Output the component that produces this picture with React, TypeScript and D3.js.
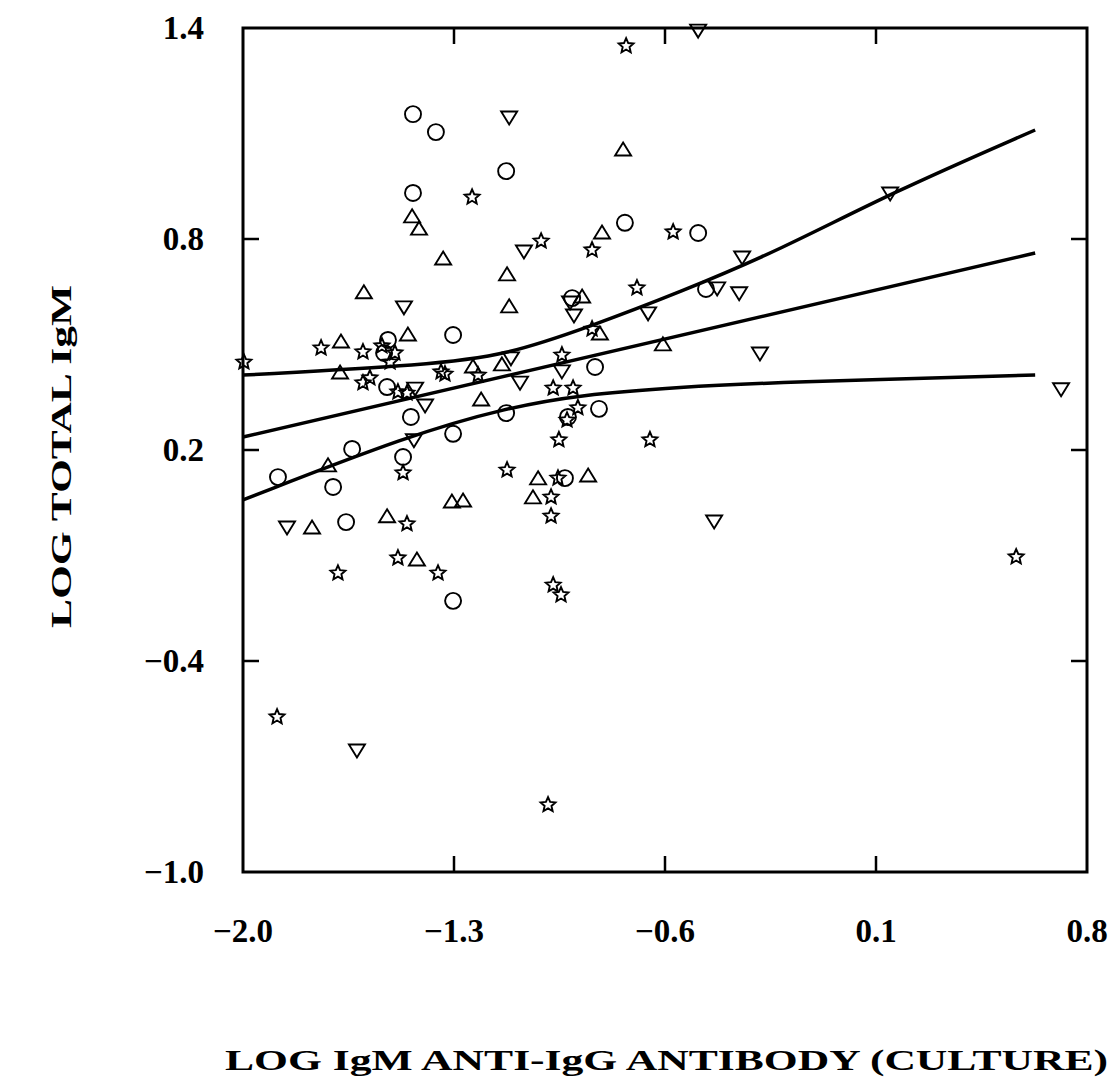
import React from "react";
import * as d3 from "d3";

// ---- Data ----
const xTicks = [-2.0, -1.3, -0.6, 0.1, 0.8];
const yTicks = [1.4, 0.8, 0.2, -0.4, -1.0];
const xTickLabels = ["\u22122.0", "\u22121.3", "\u22120.6", "0.1", "0.8"];
const yTickLabels = ["1.4", "0.8", "0.2", "\u22120.4", "\u22121.0"];

// circles [x, y]
const circles: [number, number][] = [
  [-1.436, 1.155], [-1.36, 1.104], [-1.127, 0.993], [-1.436, 0.931], [-0.733, 0.846],
  [-0.49, 0.817], [-0.464, 0.658], [-0.908, 0.632], [-1.303, 0.527], [-1.519, 0.513],
  [-1.532, 0.476], [-0.832, 0.436], [-1.522, 0.379], [-1.443, 0.294], [-1.127, 0.305],
  [-0.819, 0.317], [-0.922, 0.294], [-1.638, 0.203], [-1.303, 0.246], [-1.469, 0.18],
  [-1.884, 0.123], [-1.701, 0.095], [-0.932, 0.12], [-1.658, -0.005], [-1.303, -0.229],
];

// upward triangles
const upTriangles: [number, number][] = [
  [-0.739, 1.053], [-1.439, 0.863], [-1.416, 0.828], [-1.336, 0.743], [-0.809, 0.817],
  [-1.124, 0.698], [-1.599, 0.647], [-1.117, 0.607], [-0.875, 0.635], [-0.816, 0.53],
  [-0.607, 0.499], [-1.141, 0.442], [-1.237, 0.436], [-1.675, 0.507], [-1.453, 0.527],
  [-1.678, 0.419], [-1.21, 0.342], [-1.718, 0.155], [-1.021, 0.118], [-0.855, 0.126],
  [-1.307, 0.052], [-1.27, 0.055], [-1.038, 0.064], [-1.771, -0.022], [-1.522, 0.01],
  [-1.423, -0.113],
];

// downward triangles
const downTriangles: [number, number][] = [
  [-1.117, 1.147], [-0.49, 1.394], [-1.068, 0.766], [-0.344, 0.749], [-0.427, 0.661],
  [-0.354, 0.647], [0.147, 0.931], [-1.466, 0.607], [-0.902, 0.584], [-0.656, 0.59],
  [-0.285, 0.476], [-1.111, 0.462], [-0.942, 0.425], [-1.081, 0.393], [-1.429, 0.376],
  [-1.396, 0.328], [-1.433, 0.229], [0.714, 0.374], [-0.437, -0.002], [-1.854, -0.019],
  [-1.622, -0.653], [-0.915, 0.621],
];

// stars
const stars: [number, number][] = [
  [-0.729, 1.349], [-1.24, 0.919], [-1.011, 0.794], [-0.842, 0.769], [-0.573, 0.82],
  [-0.693, 0.661], [-1.997, 0.45], [-1.741, 0.49], [-1.602, 0.479], [-1.539, 0.496],
  [-1.496, 0.476], [-1.512, 0.45], [-1.343, 0.422], [-1.22, 0.413], [-1.602, 0.391],
  [-1.579, 0.405], [-1.486, 0.365], [-1.456, 0.362], [-0.942, 0.47], [-0.971, 0.376],
  [-0.905, 0.376], [-0.889, 0.32], [-0.925, 0.285], [-0.952, 0.229], [-0.65, 0.229],
  [-1.469, 0.135], [-1.124, 0.143], [-0.955, 0.12], [-0.978, 0.066], [-0.978, 0.012],
  [-1.456, -0.01], [-1.486, -0.107], [-1.685, -0.15], [-1.353, -0.15], [-0.971, -0.184],
  [-0.945, -0.212], [-1.887, -0.559], [-0.988, -0.809], [0.565, -0.104], [-0.842, 0.544],
  [-1.33, 0.416],
];

// regression line and confidence band
const fitX = [-2.0, 0.628];
const fitY = [0.237, 0.76];
const upperX = [-2.0, -1.38, -1.127, -0.852, -0.55, -0.218, 0.147, 0.628];
const upperY = [0.413, 0.442, 0.47, 0.55, 0.649, 0.769, 0.93, 1.11];
const lowerX = [-2.0, -1.446, -1.124, -0.882, -0.55, -0.218, 0.628];
const lowerY = [0.058, 0.243, 0.32, 0.357, 0.379, 0.393, 0.413];

const W = 1112;
const H = 1086;
const left = 243, right = 1087, top = 28, bottom = 872;

const x = d3.scaleLinear().domain([-2.0, 0.8]).range([left, right]);
const y = d3.scaleLinear().domain([-1.0, 1.4]).range([bottom, top]);

const FONT = "'Liberation Serif', 'DejaVu Serif', serif";

function starPath(R: number, r: number) {
  const pts: [number, number][] = [];
  for (let i = 0; i < 10; i++) {
    const a = -Math.PI / 2 + (i * Math.PI) / 5;
    const rad = i % 2 === 0 ? R : r;
    pts.push([rad * Math.cos(a), rad * Math.sin(a)]);
  }
  return "M" + pts.map((p) => p.join(",")).join("L") + "Z";
}
const STAR = starPath(7.8, 3.6);
const UP = "M0,-7.5L8,5.5L-8,5.5Z";
const DOWN = "M0,7.5L8,-5.5L-8,-5.5Z";

export default function App() {
  const straight = d3
    .line<[number, number]>()
    .x((d) => x(d[0]))
    .y((d) => y(d[1]));
  const smooth = d3
    .line<[number, number]>()
    .x((d) => x(d[0]))
    .y((d) => y(d[1]))
    .curve(d3.curveBasis);
  const fit = straight(fitX.map((v, i) => [v, fitY[i]] as [number, number]));
  const upper = smooth(upperX.map((v, i) => [v, upperY[i]] as [number, number]));
  const lower = smooth(lowerX.map((v, i) => [v, lowerY[i]] as [number, number]));
  const tickLen = 16;
  const inner = (t: number, arr: number[]) => t !== arr[0] && t !== arr[arr.length - 1];

  return (
    <svg
      width={W}
      height={H}
      style={{ position: "absolute", left: 0, top: 0, background: "#fff" }}
    >
      <rect x={0} y={0} width={W} height={H} fill="#fff" />
      {/* frame */}
      <rect
        x={left}
        y={top}
        width={right - left}
        height={bottom - top}
        fill="none"
        stroke="#000"
        strokeWidth={3}
      />
      {/* ticks */}
      {xTicks.filter((t) => inner(t, xTicks)).map((t) => (
        <g key={"xt" + t} stroke="#000" strokeWidth={2.5}>
          <line x1={x(t)} x2={x(t)} y1={bottom} y2={bottom - tickLen} />
          <line x1={x(t)} x2={x(t)} y1={top} y2={top + tickLen} />
        </g>
      ))}
      {yTicks.filter((t) => inner(t, yTicks)).map((t) => (
        <g key={"yt" + t} stroke="#000" strokeWidth={2.5}>
          <line x1={left} x2={left + tickLen} y1={y(t)} y2={y(t)} />
          <line x1={right} x2={right - tickLen} y1={y(t)} y2={y(t)} />
        </g>
      ))}
      {/* tick labels */}
      {xTicks.map((t, i) => (
        <text
          key={"xl" + t}
          x={x(t)}
          y={942}
          textAnchor="middle"
          fontFamily={FONT}
          fontWeight="bold"
          fontSize={33}
        >
          {xTickLabels[i]}
        </text>
      ))}
      {yTicks.map((t, i) => (
        <text
          key={"yl" + t}
          x={204}
          y={y(t) + 11}
          textAnchor="end"
          fontFamily={FONT}
          fontWeight="bold"
          fontSize={33}
        >
          {yTickLabels[i]}
        </text>
      ))}
      {/* axis titles */}
      <text
        x={225}
        y={1070}
        fontFamily={FONT}
        fontWeight="bold"
        fontSize={29}
        textLength={883}
        lengthAdjust="spacingAndGlyphs"
      >
        LOG IgM ANTI-IgG ANTIBODY (CULTURE)
      </text>
      <text
        transform="translate(71,628) rotate(-90)"
        x={0}
        y={0}
        fontFamily={FONT}
        fontWeight="bold"
        fontSize={29}
        textLength={343}
        lengthAdjust="spacingAndGlyphs"
      >
        LOG TOTAL IgM
      </text>
      {/* regression line and band */}
      <g fill="none" stroke="#000" strokeWidth={3.5}>
        <path d={fit || ""} />
        <path d={upper || ""} />
        <path d={lower || ""} />
      </g>
      {/* markers */}
      <g fill="none" stroke="#000" strokeWidth={1.9}>
        {circles.map((d, i) => (
          <circle key={"c" + i} cx={x(d[0])} cy={y(d[1])} r={8} />
        ))}
        {upTriangles.map((d, i) => (
          <path key={"u" + i} d={UP} transform={`translate(${x(d[0])},${y(d[1])})`} />
        ))}
        {downTriangles.map((d, i) => (
          <path key={"d" + i} d={DOWN} transform={`translate(${x(d[0])},${y(d[1])})`} />
        ))}
        {stars.map((d, i) => (
          <path key={"s" + i} d={STAR} strokeLinejoin="miter" transform={`translate(${x(d[0])},${y(d[1])})`} />
        ))}
      </g>
    </svg>
  );
}
